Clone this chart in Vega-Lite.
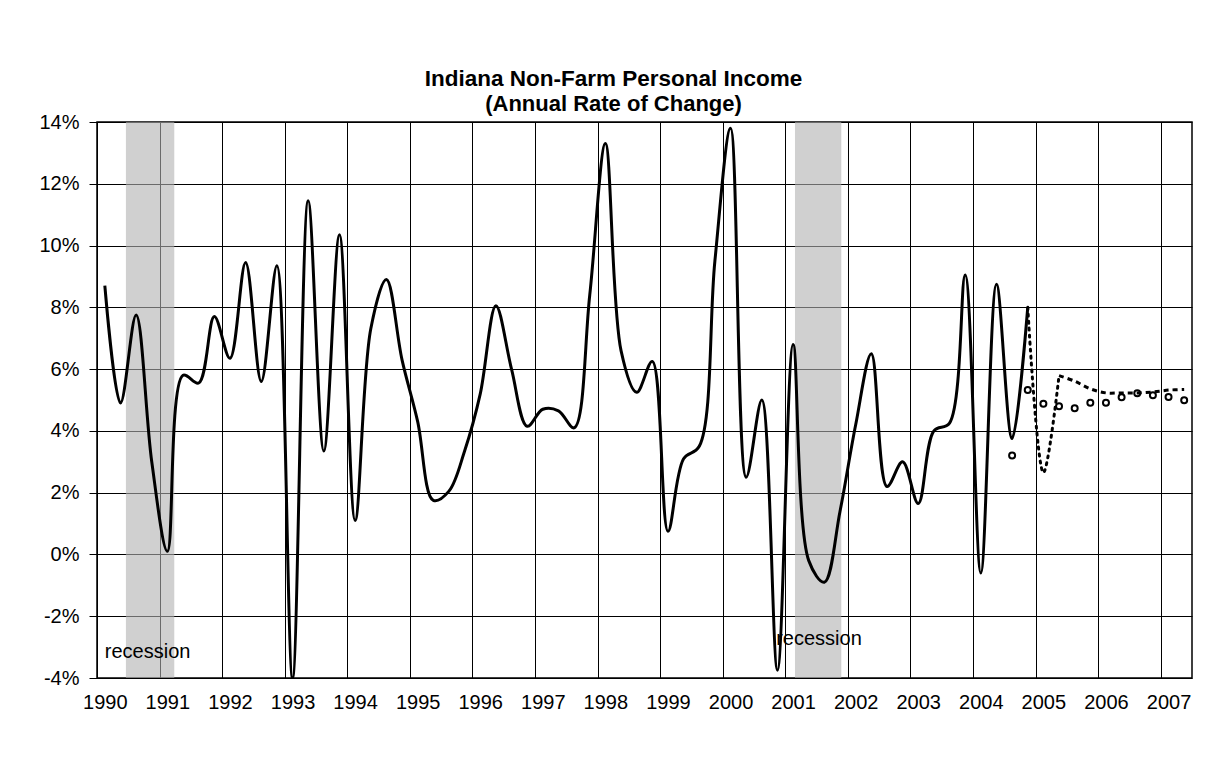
{
  "$schema": "https://vega.github.io/schema/vega-lite/v6.json",
  "width": 1095,
  "height": 556,
  "autosize": "none",
  "padding": {"left": 97, "top": 122, "right": 38, "bottom": 96},
  "background": "white",
  "title": {
    "text": "Indiana Non-Farm Personal Income",
    "subtitle": "(Annual Rate of Change)",
    "anchor": "middle",
    "dx": -31,
    "offset": -3,
    "font": "Liberation Sans",
    "fontSize": 22.5,
    "fontWeight": "bold",
    "color": "black",
    "subtitleFont": "Liberation Sans",
    "subtitleFontSize": 22,
    "subtitleFontWeight": "bold",
    "subtitleColor": "black",
    "subtitlePadding": 4
  },
  "config": {
    "view": {"stroke": "black", "strokeWidth": 1.5},
    "axis": {
      "labelFont": "Liberation Sans",
      "labelFontSize": 20,
      "labelColor": "black",
      "gridColor": "black",
      "gridOpacity": 1,
      "gridWidth": 1,
      "domainColor": "black",
      "tickColor": "black"
    }
  },
  "datasets": {
    "recessions": [
      {"start": 1990.337, "end": 1991.11, "label": "recession", "textT": 1990.0, "textV": -3.36},
      {"start": 2001.03, "end": 2001.77, "label": "recession", "textT": 2000.73, "textV": -2.92}
    ],
    "lines": [
      {"series": "Actual", "t": 1990.0, "v": 8.7},
      {"series": "Actual", "t": 1990.25, "v": 4.9},
      {"series": "Actual", "t": 1990.5, "v": 7.75},
      {"series": "Actual", "t": 1990.75, "v": 3.0},
      {"series": "Actual", "t": 1991.0, "v": 0.1},
      {"series": "Actual", "t": 1991.25, "v": 5.8},
      {"series": "Actual", "t": 1991.5, "v": 5.55},
      {"series": "Actual", "t": 1991.75, "v": 7.7},
      {"series": "Actual", "t": 1992.0, "v": 6.35},
      {"series": "Actual", "t": 1992.25, "v": 9.45},
      {"series": "Actual", "t": 1992.5, "v": 5.6},
      {"series": "Actual", "t": 1992.75, "v": 9.35},
      {"series": "Actual", "t": 1993.0, "v": -4.0},
      {"series": "Actual", "t": 1993.25, "v": 11.45},
      {"series": "Actual", "t": 1993.5, "v": 3.35},
      {"series": "Actual", "t": 1993.75, "v": 10.35},
      {"series": "Actual", "t": 1994.0, "v": 1.1},
      {"series": "Actual", "t": 1994.25, "v": 7.3},
      {"series": "Actual", "t": 1994.5, "v": 8.9},
      {"series": "Actual", "t": 1994.75, "v": 6.3},
      {"series": "Actual", "t": 1995.0, "v": 4.3},
      {"series": "Actual", "t": 1995.25, "v": 1.75},
      {"series": "Actual", "t": 1995.5, "v": 2.05},
      {"series": "Actual", "t": 1995.75, "v": 3.35},
      {"series": "Actual", "t": 1996.0, "v": 5.2},
      {"series": "Actual", "t": 1996.25, "v": 8.05},
      {"series": "Actual", "t": 1996.5, "v": 6.0},
      {"series": "Actual", "t": 1996.75, "v": 4.15},
      {"series": "Actual", "t": 1997.0, "v": 4.7},
      {"series": "Actual", "t": 1997.25, "v": 4.65},
      {"series": "Actual", "t": 1997.5, "v": 4.1},
      {"series": "Actual", "t": 1997.75, "v": 8.4},
      {"series": "Actual", "t": 1998.0, "v": 13.3},
      {"series": "Actual", "t": 1998.25, "v": 6.6},
      {"series": "Actual", "t": 1998.5, "v": 5.25},
      {"series": "Actual", "t": 1998.75, "v": 6.25},
      {"series": "Actual", "t": 1999.0, "v": 0.75},
      {"series": "Actual", "t": 1999.25, "v": 3.1},
      {"series": "Actual", "t": 1999.5, "v": 3.5},
      {"series": "Actual", "t": 1999.75, "v": 9.5},
      {"series": "Actual", "t": 2000.0, "v": 13.8},
      {"series": "Actual", "t": 2000.25, "v": 2.5},
      {"series": "Actual", "t": 2000.5, "v": 5.0},
      {"series": "Actual", "t": 2000.75, "v": -3.75},
      {"series": "Actual", "t": 2001.0, "v": 6.8},
      {"series": "Actual", "t": 2001.25, "v": -0.2},
      {"series": "Actual", "t": 2001.5, "v": -0.9},
      {"series": "Actual", "t": 2001.75, "v": 1.4},
      {"series": "Actual", "t": 2002.0, "v": 4.2},
      {"series": "Actual", "t": 2002.25, "v": 6.5},
      {"series": "Actual", "t": 2002.5, "v": 2.2},
      {"series": "Actual", "t": 2002.75, "v": 3.0},
      {"series": "Actual", "t": 2003.0, "v": 1.65},
      {"series": "Actual", "t": 2003.25, "v": 4.0},
      {"series": "Actual", "t": 2003.5, "v": 4.25},
      {"series": "Actual", "t": 2003.75, "v": 9.05},
      {"series": "Actual", "t": 2004.0, "v": -0.6},
      {"series": "Actual", "t": 2004.25, "v": 8.75},
      {"series": "Actual", "t": 2004.5, "v": 3.75},
      {"series": "Actual", "t": 2004.75, "v": 8.0},
      {"series": "Estimate", "t": 2004.75, "v": 8.0},
      {"series": "Estimate", "t": 2005.0, "v": 2.65},
      {"series": "Estimate", "t": 2005.25, "v": 5.79},
      {"series": "Forecast", "t": 2005.25, "v": 5.79},
      {"series": "Forecast", "t": 2005.5, "v": 5.61},
      {"series": "Forecast", "t": 2005.75, "v": 5.36},
      {"series": "Forecast", "t": 2006.0, "v": 5.23},
      {"series": "Forecast", "t": 2006.25, "v": 5.23},
      {"series": "Forecast", "t": 2006.5, "v": 5.23},
      {"series": "Forecast", "t": 2006.75, "v": 5.26},
      {"series": "Forecast", "t": 2007.0, "v": 5.32},
      {"series": "Forecast", "t": 2007.25, "v": 5.34},
      {"series": "Prior forecast", "t": 2004.5, "v": 3.2},
      {"series": "Prior forecast", "t": 2004.75, "v": 5.32},
      {"series": "Prior forecast", "t": 2005.0, "v": 4.88},
      {"series": "Prior forecast", "t": 2005.25, "v": 4.8},
      {"series": "Prior forecast", "t": 2005.5, "v": 4.73},
      {"series": "Prior forecast", "t": 2005.75, "v": 4.91},
      {"series": "Prior forecast", "t": 2006.0, "v": 4.91},
      {"series": "Prior forecast", "t": 2006.25, "v": 5.09},
      {"series": "Prior forecast", "t": 2006.5, "v": 5.22},
      {"series": "Prior forecast", "t": 2006.75, "v": 5.15},
      {"series": "Prior forecast", "t": 2007.0, "v": 5.1},
      {"series": "Prior forecast", "t": 2007.25, "v": 4.99}
    ]
  },
  "layer": [
    {
      "data": {"name": "recessions"},
      "mark": {"type": "rect", "color": "#b0b0b0", "opacity": 0.6},
      "encoding": {
        "x": {
          "field": "start",
          "type": "quantitative",
          "scale": {"domain": [1989.875, 2007.375], "nice": false, "zero": false},
          "axis": {
            "title": null,
            "values": [1989.875, 1990.875, 1991.875, 1992.875, 1993.875, 1994.875, 1995.875, 1996.875, 1997.875, 1998.875, 1999.875, 2000.875, 2001.875, 2002.875, 2003.875, 2004.875, 2005.875, 2006.875],
            "labelExpr": "format(round(datum.value), 'd')",
            "labelOffset": 7.8,
            "labelPadding": 14,
            "labelFlush": false,
            "labelOverlap": false,
            "grid": true,
            "ticks": false,
            "domain": false
          }
        },
        "x2": {"field": "end"}
      }
    },
    {
      "data": {"name": "recessions"},
      "mark": {"type": "text", "align": "left", "baseline": "alphabetic", "font": "Liberation Sans", "fontSize": 20, "color": "black"},
      "encoding": {
        "x": {"field": "textT", "type": "quantitative", "axis": {"title": null}},
        "y": {"field": "textV", "type": "quantitative", "axis": {"title": null}},
        "text": {"field": "label"}
      }
    },
    {
      "data": {"name": "lines"},
      "transform": [{"filter": "datum.series == 'Actual'"}],
      "mark": {"type": "line", "interpolate": "catmull-rom", "color": "black", "strokeWidth": 3, "clip": true},
      "encoding": {
        "x": {"field": "t", "type": "quantitative", "axis": {"title": null}},
        "y": {
          "field": "v",
          "type": "quantitative",
          "scale": {"domain": [-4, 14], "nice": false, "zero": false},
          "axis": {
            "title": null,
            "values": [-4, -2, 0, 2, 4, 6, 8, 10, 12, 14],
            "labelExpr": "datum.value + '%'",
            "tickSize": 8,
            "labelPadding": 10,
            "grid": true,
            "domain": true
          }
        }
      }
    },
    {
      "mark": {"type": "rule", "color": "black", "strokeWidth": 2.5},
      "encoding": {"y": {"datum": 0}}
    },
    {
      "data": {"name": "lines"},
      "transform": [{"filter": "datum.series == 'Estimate'"}],
      "mark": {"type": "line", "interpolate": "catmull-rom", "color": "black", "strokeWidth": 3, "strokeDash": [2, 5], "strokeCap": "round", "clip": true},
      "encoding": {
        "x": {"field": "t", "type": "quantitative", "axis": {"title": null}},
        "y": {"field": "v", "type": "quantitative", "axis": {"title": null}}
      }
    },
    {
      "data": {"name": "lines"},
      "transform": [{"filter": "datum.series == 'Forecast'"}],
      "mark": {"type": "line", "interpolate": "catmull-rom", "color": "black", "strokeWidth": 3, "strokeDash": [5, 4], "clip": true},
      "encoding": {
        "x": {"field": "t", "type": "quantitative", "axis": {"title": null}},
        "y": {"field": "v", "type": "quantitative", "axis": {"title": null}}
      }
    },
    {
      "data": {"name": "lines"},
      "transform": [{"filter": "datum.series == 'Prior forecast'"}],
      "mark": {"type": "point", "shape": "circle", "filled": false, "stroke": "black", "strokeWidth": 2, "size": 36, "opacity": 1},
      "encoding": {
        "x": {"field": "t", "type": "quantitative", "axis": {"title": null}},
        "y": {"field": "v", "type": "quantitative", "axis": {"title": null}}
      }
    }
  ]
}
